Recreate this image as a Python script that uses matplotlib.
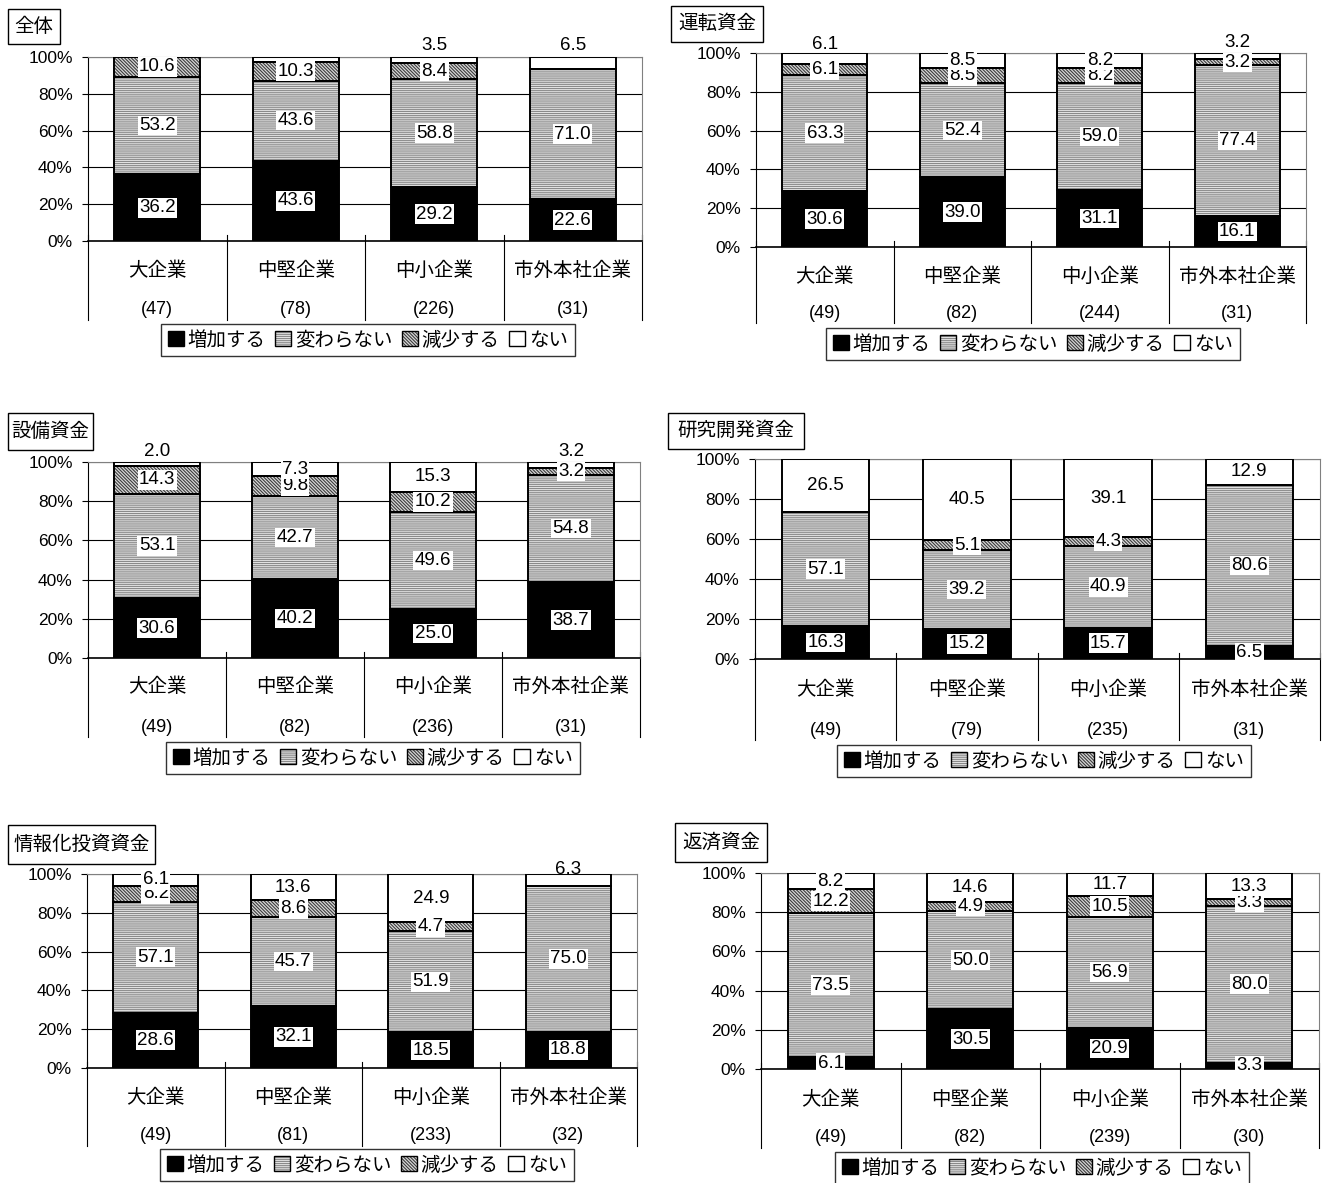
import matplotlib.pyplot as plt
import matplotlib.transforms as mtransforms
from matplotlib.patches import Patch, Rectangle
import numpy as np

plt.rcParams['font.family'] = ['Liberation Sans', 'Noto Sans CJK JP']
plt.rcParams['hatch.linewidth'] = 0.8

# tamanho da figura em pixels
W, H = 1327, 1183

categories = ['大企業', '中堅企業', '中小企業', '市外本社企業']
series_names = ['増加する', '変わらない', '減少する', 'ない']

# 全体
zentai_n = [47, 78, 226, 31]
zentai_inc = [36.2, 43.6, 29.2, 22.6]
zentai_same = [53.2, 43.6, 58.8, 71.0]
zentai_dec = [10.6, 10.3, 8.4, 0.0]
zentai_none = [0.0, 2.5, 3.5, 6.5]

# 運転資金
unten_n = [49, 82, 244, 31]
unten_inc = [30.6, 39.0, 31.1, 16.1]
unten_same = [63.3, 52.4, 59.0, 77.4]
unten_dec = [6.1, 8.5, 8.2, 3.2]
unten_none = [6.1, 8.5, 8.2, 3.2]

# 設備資金
setsubi_n = [49, 82, 236, 31]
setsubi_inc = [30.6, 40.2, 25.0, 38.7]
setsubi_same = [53.1, 42.7, 49.6, 54.8]
setsubi_dec = [14.3, 9.8, 10.2, 3.2]
setsubi_none = [2.0, 7.3, 15.3, 3.2]

# 研究開発資金
kenkyu_n = [49, 79, 235, 31]
kenkyu_inc = [16.3, 15.2, 15.7, 6.5]
kenkyu_same = [57.1, 39.2, 40.9, 80.6]
kenkyu_dec = [0.0, 5.1, 4.3, 0.0]
kenkyu_none = [26.5, 40.5, 39.1, 12.9]

# 情報化投資資金
joho_n = [49, 81, 233, 32]
joho_inc = [28.6, 32.1, 18.5, 18.8]
joho_same = [57.1, 45.7, 51.9, 75.0]
joho_dec = [8.2, 8.6, 4.7, 0.0]
joho_none = [6.1, 13.6, 24.9, 6.3]

# 返済資金
hensai_n = [49, 82, 239, 30]
hensai_inc = [6.1, 30.5, 20.9, 3.3]
hensai_same = [73.5, 50.0, 56.9, 80.0]
hensai_dec = [12.2, 4.9, 10.5, 3.3]
hensai_none = [8.2, 14.6, 11.7, 13.3]

# estilo de cada série (preenchimento, hachura, cor da hachura)
styles = [
    dict(fc='black', hatch=None, hc='black'),
    dict(fc='#e4e4e4', hatch='-' * 8, hc='#8a8a8a'),
    dict(fc='#d8d8d8', hatch='\\' * 10, hc='#3c3c3c'),
    dict(fc='white', hatch=None, hc='white'),
]

# posições em pixels: eixos (x0, x1, y100, y0), divisórias, rótulos, legenda, caixa do título
panels = [
    dict(title='全体', n=zentai_n,
         vals=[zentai_inc, zentai_same, zentai_dec, zentai_none],
         ax=(88, 642, 57, 241), div=320, cat_y=271, n_y=310, leg=(368, 324),
         tbox=(8, 60, 9, 44), above=[(3, 2, 106.5), (3, 3, 106.5)], hidden=[(3, 1)]),
    dict(title='運転資金', n=unten_n,
         vals=[unten_inc, unten_same, unten_dec, unten_none],
         ax=(756, 1306, 53, 247), div=323, cat_y=277, n_y=313, leg=(1033, 328),
         tbox=(671, 763, 6, 42), above=[(3, 0, 104.5), (3, 3, 105.5)], hidden=[]),
    dict(title='設備資金', n=setsubi_n,
         vals=[setsubi_inc, setsubi_same, setsubi_dec, setsubi_none],
         ax=(88, 640, 462, 658), div=737, cat_y=687, n_y=727, leg=(373, 742),
         tbox=(8, 93, 413, 450), above=[(3, 0, 105.5), (3, 3, 105.5)], hidden=[]),
    dict(title='研究開発資金', n=kenkyu_n,
         vals=[kenkyu_inc, kenkyu_same, kenkyu_dec, kenkyu_none],
         ax=(755, 1320, 459, 659), div=740, cat_y=690, n_y=730, leg=(1044, 745),
         tbox=(668, 804, 413, 449), above=[], hidden=[]),
    dict(title='情報化投資資金', n=joho_n,
         vals=[joho_inc, joho_same, joho_dec, joho_none],
         ax=(87, 637, 874, 1068), div=1146, cat_y=1098, n_y=1136, leg=(367, 1149),
         tbox=(8, 155, 825, 864), above=[(3, 3, 102.5)], hidden=[]),
    dict(title='返済資金', n=hensai_n,
         vals=[hensai_inc, hensai_same, hensai_dec, hensai_none],
         ax=(761, 1319, 873, 1069), div=1148, cat_y=1100, n_y=1138, leg=(1042, 1152),
         tbox=(675, 767, 823, 862), above=[], hidden=[]),
]

fig = plt.figure(figsize=(W / 100, H / 100), dpi=100)

# alças da legenda: hachura + contorno preto sobrepostos
handles = []
for st in styles:
    inner = Patch(facecolor=st['fc'], hatch=st['hatch'], edgecolor=st['hc'], linewidth=0)
    outer = Patch(fill=False, edgecolor='black', linewidth=1)
    handles.append((inner, outer))

bar_w = 0.62
for p in panels:
    x0, x1, y100, y0 = p['ax']
    ax = fig.add_axes([x0 / W, 1 - y0 / H, (x1 - x0) / W, (y0 - y100) / H])
    ax.set_xlim(-0.5, 3.5)
    ax.set_ylim(0, 100)

    def frac(py):
        return (y0 - py) / (y0 - y100)

    vals = np.array(p['vals'])
    for j in range(len(categories)):
        total = vals[:, j].sum()
        bottom = 0.0
        for s, st in enumerate(styles):
            v = vals[s, j]
            if v <= 0:
                continue
            h = v / total * 100
            ax.bar(j, h, bar_w, bottom=bottom, color=st['fc'], hatch=st['hatch'],
                   edgecolor=st['hc'], linewidth=0, zorder=2)
            ax.bar(j, h, bar_w, bottom=bottom, fill=False, edgecolor='black',
                   linewidth=1.4, zorder=3)
            if (s, j) not in p['hidden']:
                ypos = bottom + h / 2
                box = dict(facecolor='white', edgecolor='none', pad=1)
                for (sa, ja, ya) in p['above']:
                    if sa == s and ja == j:
                        ypos = ya
                        box = None
                ax.text(j, ypos, f'{v:.1f}', ha='center', va='center', fontsize=13.5,
                        bbox=box, zorder=5, clip_on=False)
            bottom += h

    # eixos e grade
    ax.set_yticks(range(0, 101, 20))
    ax.set_yticklabels([f'{t}%' for t in range(0, 101, 20)])
    ax.set_xticks([])
    ax.tick_params(axis='y', labelsize=12.5, length=4, width=0.8, pad=7, direction='out')
    ax.yaxis.grid(True, color='black', linewidth=0.8)
    ax.set_axisbelow(True)
    ax.spines['left'].set_color('black')
    ax.spines['bottom'].set_color('black')
    ax.spines['bottom'].set_linewidth(1.2)
    ax.spines['top'].set_color('#808080')
    ax.spines['right'].set_color('#808080')

    # divisórias e rótulos das categorias abaixo do eixo
    trans = mtransforms.blended_transform_factory(ax.transData, ax.transAxes)
    for k in range(len(categories) + 1):
        ax.plot([k - 0.5, k - 0.5], [frac(y0 - 6), frac(p['div'])], color='black',
                linewidth=0.8, transform=trans, clip_on=False)
    for j, c in enumerate(categories):
        ax.text(j, frac(p['cat_y']), c, transform=trans, ha='center', va='center',
                fontsize=14)
        ax.text(j, frac(p['n_y']), f'({p["n"][j]})', transform=trans, ha='center',
                va='center', fontsize=13)

    # legenda
    cx, top = p['leg']
    leg = fig.legend(handles, series_names, loc='upper center',
                     bbox_to_anchor=(cx / W, 1 - top / H), ncol=4, frameon=True,
                     fancybox=False, edgecolor='black', fontsize=14, handlelength=0.8,
                     handleheight=0.8, handletextpad=0.2, columnspacing=0.5,
                     borderpad=0.35, borderaxespad=0)
    leg.get_frame().set_linewidth(1)

    # caixa do título
    tx0, tx1, ty0, ty1 = p['tbox']
    fig.add_artist(Rectangle((tx0 / W, 1 - ty1 / H), (tx1 - tx0) / W, (ty1 - ty0) / H,
                             transform=fig.transFigure, facecolor='white',
                             edgecolor='black', linewidth=1))
    fig.text((tx0 + tx1) / 2 / W, 1 - (ty0 + ty1) / 2 / H, p['title'], ha='center',
             va='center', fontsize=14)

fig.savefig('out.png', dpi=100)
